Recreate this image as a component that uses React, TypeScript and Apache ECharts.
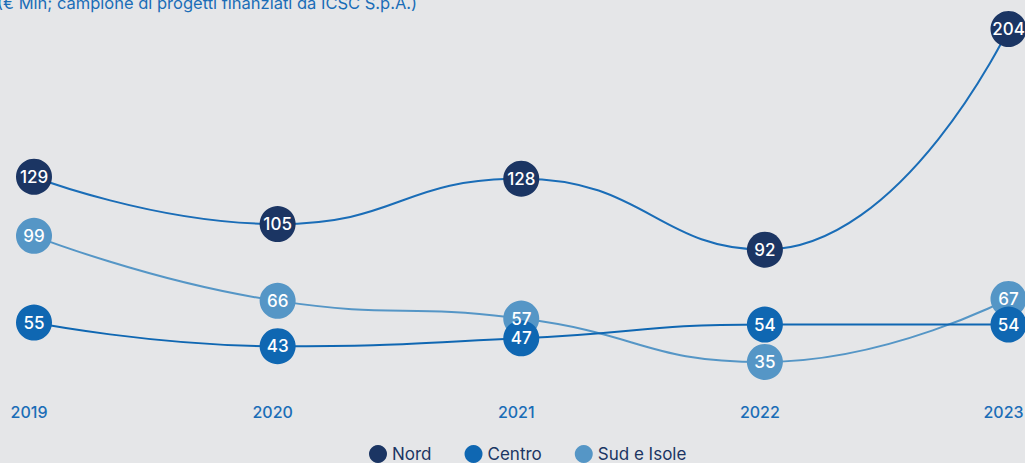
import React, { useEffect, useRef } from "react";
import * as echarts from "echarts";

const years = ["2019", "2020", "2021", "2022", "2023"];
const nord = [129, 105, 128, 92, 204];
const centro = [55, 43, 47, 54, 54];
const sud = [99, 66, 57, 35, 67];
const subtitle = "(€ Mln; campione di progetti finanziati da ICSC S.p.A.)";

const NAVY = "#1b3563";
const BLUE = "#0f67b2";
const LIGHT = "#5596c6";
const LINE_BLUE = "#1a6db7";
const FONT = "Inter, 'Noto Sans', sans-serif";

function mkSeries(name: string, data: number[], marker: string, line: string) {
  return {
    name,
    type: "line",
    data,
    smooth: 0.5,
    symbol: "circle",
    symbolSize: 36,
    itemStyle: { color: marker },
    lineStyle: { color: line, width: 2 },
    label: {
      show: true,
      position: "inside",
      color: "#ffffff",
      fontSize: 17,
      fontWeight: 500,
      fontFamily: FONT,
    },
  };
}

export default function App() {
  const ref = useRef<HTMLDivElement>(null);
  useEffect(() => {
    document.body.style.margin = "0";
    document.body.style.background = "#e5e6e8";
    const chart = echarts.init(ref.current!, null, { renderer: "svg" });
    chart.setOption({
      animation: false,
      backgroundColor: "#e5e6e8",
      grid: { left: 34, right: 16.5, top: 29, bottom: 71.5, containLabel: false, outerBoundsMode: "none" },
      graphic: [
        {
          type: "text",
          left: -3,
          top: -6,
          style: { text: subtitle, fill: LINE_BLUE, fontSize: 16.5, fontFamily: FONT },
        },
      ],
      legend: {
        top: 445,
        left: 369,
        padding: 0,
        icon: "circle",
        itemWidth: 18,
        itemHeight: 18,
        itemGap: 33,
        textStyle: { color: NAVY, fontSize: 17, fontFamily: FONT },
        data: ["Nord", "Centro", "Sud e Isole"],
      },
      xAxis: {
        type: "category",
        data: years,
        boundaryGap: false,
        axisLine: { show: false },
        axisTick: { show: false },
        splitLine: { show: false },
        axisLabel: {
          color: LINE_BLUE,
          fontSize: 16,
          fontWeight: 500,
          fontFamily: FONT,
          margin: 12,
          padding: [0, 10, 0, 0],
          hideOverlap: false,
        },
      },
      yAxis: {
        type: "value",
        min: 20,
        max: 204,
        show: false,
        splitLine: { show: false },
      },
      series: [
        mkSeries("Sud e Isole", sud, LIGHT, LIGHT),
        mkSeries("Centro", centro, BLUE, BLUE),
        mkSeries("Nord", nord, NAVY, LINE_BLUE),
      ],
    });
    return () => chart.dispose();
  }, []);
  return <div ref={ref} style={{ width: 1025, height: 463 }} />;
}
